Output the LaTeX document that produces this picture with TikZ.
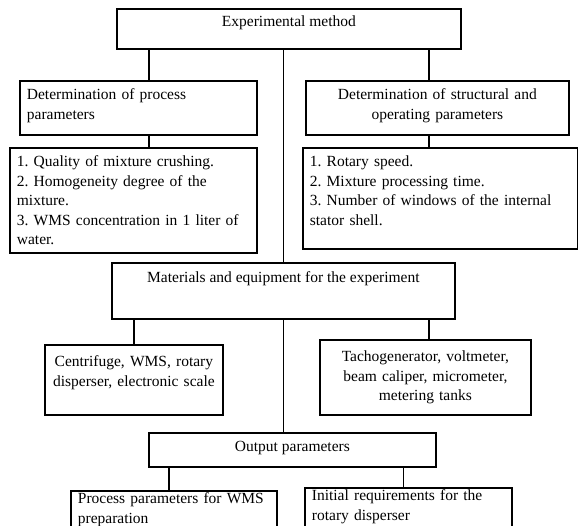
\documentclass[tikz,border=0pt]{standalone}
\usepackage{fontspec}
\setmainfont{Liberation Serif}
\frenchspacing
\tikzset{
  blk/.style={draw, line width=1.8pt, anchor=north west, inner xsep=7pt, inner ysep=0pt,
    text height=11pt, font=\fontsize{15.5}{19.5}\selectfont},
  link/.style={line width=1.7pt},
}
\begin{document}
\begin{tikzpicture}[x=1pt,y=-1pt]
\clip (0,0) rectangle (578,526);
\fill[white] (0,0) rectangle (578,526);

\node[blk, minimum width=344pt, minimum height=40pt, text depth=15pt] (method) at (116,8) {Experimental method}; %TOP

\node[blk, text width=223pt, minimum height=54pt, text depth=27pt, align=left] (detproc) at (19,80)
  {Determination of process\\parameters}; %LEFT
\node[blk, text width=249pt, minimum height=54pt, text depth=27pt, align=center] (detstruct) at (305,80)
  {Determination of structural and\\operating parameters}; %RIGHT

\node[blk, text width=233pt, minimum height=105pt, text depth=78pt, align=left] (quality) at (9,147)
  {1. Quality of mixture crushing.\\2. Homogeneity degree of the\\mixture.\\3. WMS concentration in 1 liter of\\water.};
\node[blk, text width=261pt, minimum height=101pt, text depth=74pt, align=left] (rotor) at (302,147)
  {1. Rotary speed.\\2. Mixture processing time.\\3. Number of windows of the internal\\stator shell.};

\node[blk, minimum width=343pt, minimum height=56pt, text depth=27pt] (material) at (111,262)
  {Materials and equipment for the experiment}; %MIDDLE

\node[blk, text width=164pt, minimum height=70pt, text depth=37pt, align=center] (devleft) at (44,344)
  {Centrifuge, WMS, rotary\\disperser, electronic scale};
\node[blk, text width=197pt, minimum height=75pt, text depth=42pt, align=center] (devright) at (319,339)
  {Tachogenerator, voltmeter,\\beam caliper, micrometer,\\metering tanks};

\node[blk, minimum width=287pt, minimum height=34pt, text depth=7pt] (output) at (148,432)
  {Output parameters}; %BOTTOM

\node[blk, text width=192pt, minimum height=50pt, text depth=35pt, align=left] (resleft) at (70,490)
  {Process parameters for WMS\\preparation};
\node[blk, text width=193pt, minimum height=50pt, text depth=35pt, align=left] (resright) at (304,487)
  {Initial requirements for the\\rotary disperser};

% connectors
\draw[link] ([xshift=10.5pt]detproc.north) -- ([xshift=10.5pt]detproc.north |- method.south);
\draw[link] ([xshift=-8.5pt]detstruct.north) -- ([xshift=-8.5pt]detstruct.north |- method.south);
\draw[link] (material.north |- method.south) -- (material.north);
\draw[link] ([xshift=10.5pt]detproc.south) -- ([xshift=10.5pt]detproc.south |- quality.north);
\draw[link] ([xshift=-8.5pt]detstruct.south) -- ([xshift=-8.5pt]detstruct.south |- rotor.north);
\draw[link] (devleft.north |- material.south) -- (devleft.north);
\draw[link] ([xshift=3.5pt]devright.north |- material.south) -- ([xshift=3.5pt]devright.north);
\draw[link] (material.south) -- (material.south |- output.north);
\draw[link] ([xshift=-5pt]resleft.north |- output.south) -- ([xshift=-5pt]resleft.north);
\draw[link] ([xshift=-5pt]resright.north |- output.south) -- ([xshift=-5pt]resright.north);
\end{tikzpicture}
\end{document}
